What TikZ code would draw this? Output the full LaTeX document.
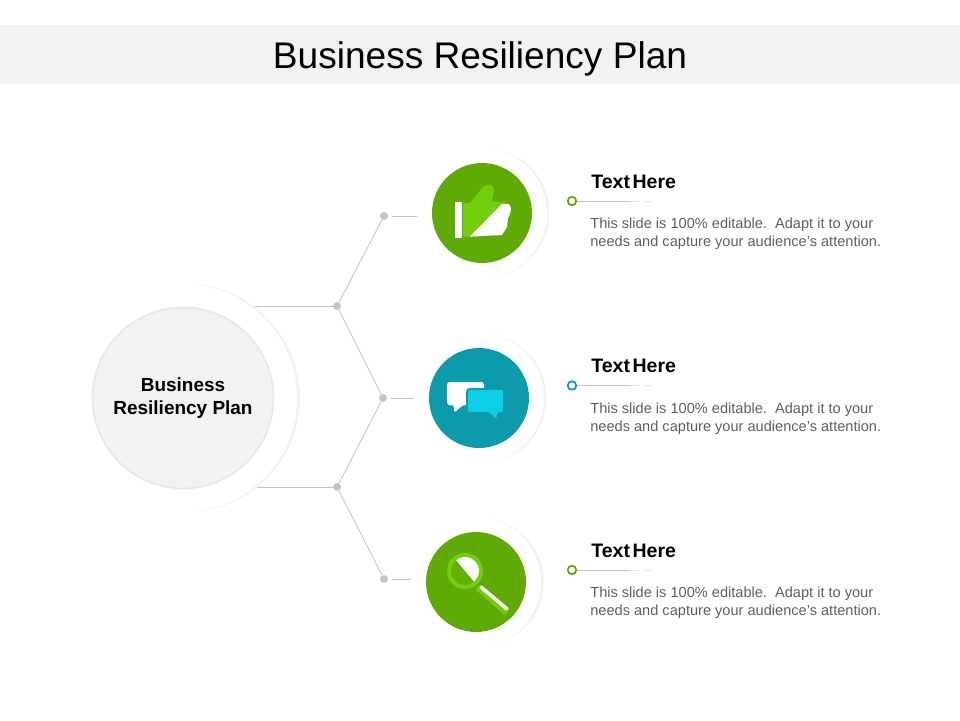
\documentclass[tikz,border=0pt]{standalone}
\usepackage{fontspec}
\setmainfont{Liberation Sans}
\usetikzlibrary{positioning}
\definecolor{bandgrey}{HTML}{F2F2F2}
\definecolor{ringgrey}{HTML}{F2F2F2}
\definecolor{wiregrey}{HTML}{C4C4C4}
\definecolor{bodygrey}{HTML}{5F5F5F}
\definecolor{leafgreen}{HTML}{5FAA05}
\definecolor{limegreen}{HTML}{72CE0A}
\definecolor{seateal}{HTML}{0C9BAB}
\definecolor{skycyan}{HTML}{0CCFE6}
\tikzset{
  wire/.style={wiregrey,line width=0.5pt},
  wiredot/.style={circle,fill=wiregrey,inner sep=0pt,minimum size=0.16cm},
  halo/.style={circle,fill=white,inner sep=0pt,minimum size=2.6cm},
  iconcircle/.style={circle,inner sep=0pt,minimum size=2cm},
  ringdot/.style={circle,draw,fill=white,line width=1pt,inner sep=0pt,minimum size=0.17cm},
  headtext/.style={anchor=west,inner sep=0pt,font=\fontsize{11.1}{13}\selectfont\bfseries},
  bodytext/.style={anchor=west,inner sep=0pt,align=left,text=bodygrey,font=\fontsize{8.3}{10.25}\selectfont}
}
\newcommand{\handpath}{(463,203) -- (470,203) -- (482,188) .. controls (486,183) and (494,183) .. (494,190) -- (492,201) -- (507,203) .. controls (512,204) and (512,212) .. (508,218) -- (507,227) -- (502,235) -- (463,237) -- cycle}
\begin{document}
\begin{tikzpicture}[x=0.02cm,y=-0.02cm]
\useasboundingbox (0,0) rectangle (960,720);
% bandeau
\fill[bandgrey] (0,25) rectangle (960,84);
\node[inner sep=0pt,font=\fontsize{21.1}{25}\selectfont] (title) at (480,58.5) {Business Resiliency Plan};
% cercle central
\fill[ringgrey] (186,398) circle (114);
\fill[white] (183,398) circle (114);
\node[circle,fill=bandgrey,draw=ringgrey!96!black,line width=1pt,inner sep=0pt,minimum size=3.62cm,align=center,font=\fontsize{10.8}{13.2}\selectfont\bfseries] (root) at (183,398) {Business\\Resiliency Plan};
% fils
\coordinate (rootup) at (255,306);
\coordinate (rootdown) at (257,487);
\node[wiredot] (hubup) at (337,306) {};
\node[wiredot] (hubdown) at (337,487) {};
\node[wiredot] (tipa) at (384,216) {};
\node[wiredot] (tipb) at (383,398) {};
\node[wiredot] (tipc) at (384,579) {};
\coordinate (enda) at (417,216);
\coordinate (endb) at (414,398);
\coordinate (endc) at (411,579);
\draw[wire] (rootup) -- (hubup);
\draw[wire] (rootdown) -- (hubdown);
\draw[wire] (hubup) -- (tipa);
\draw[wire] (hubup) -- (tipb);
\draw[wire] (hubdown) -- (tipb);
\draw[wire] (hubdown) -- (tipc);
\draw[wire,shorten <=2pt] (tipa) -- (enda);
\draw[wire,shorten <=2pt] (tipb) -- (endb);
\draw[wire,shorten <=2pt] (tipc) -- (endc);
% cercles et textes
\foreach \n/\cx/\cy/\tone in {a/482/213/leafgreen,b/479/398/seateal,c/476/582/leafgreen}
    {
    \fill[ringgrey] (\cx+3,\cy) circle (64.5);
    \node[halo] (halo\n) at (\cx,\cy) {};
    \node[iconcircle,fill=\tone] (icon\n) at (\cx,\cy) {};
    }
\foreach \n/\cy/\tone in {a/201/leafgreen,b/385.5/seateal,c/570/leafgreen}
    {
    \node[ringdot,draw=\tone] (mark\n) at (572,\cy) {};
    \coordinate (lead\n) at (630,\cy);
    \draw[wire] (mark\n) -- (lead\n);
    \draw[wiregrey!50,line width=0.5pt,dash pattern=on 5pt off 3pt] (lead\n) -- ++(22,0);
    \node[headtext] (head\n) at (591,\cy-19.5) {Text\hspace{1.5pt}Here};
    \node[bodytext] (body\n) at (590,\cy+33) {This slide is 100\% editable.\ \ Adapt it to your\\needs and capture your audience's attention.};
    }
% pouce
\fill[white] (455,202) rectangle (462,238);
\fill[limegreen] \handpath;
\begin{scope}
\clip (470,236.5) -- (502,204) -- (516,204) -- (516,240) -- (470,240) -- cycle;
\fill[white] \handpath;
\end{scope}
% bulles
\fill[white,rounded corners=1.5pt] (447,382) -- (484,382) -- (484,405) -- (463,405) -- (454,413) -- (454,405) -- (447,405) -- cycle;
\fill[skycyan,draw=seateal,line width=1pt,rounded corners=1.5pt] (467,389) -- (504,389) -- (504,413) -- (498,413) -- (497,421) -- (489,413) -- (467,413) -- cycle;
% loupe
\draw[limegreen,line width=3pt,line cap=round] (479,589) -- (505,612);
\draw[white,line width=2pt,line cap=round] (481,587) -- (507,609);
\fill[limegreen] (465,571) circle (18);
\fill[leafgreen!80!limegreen] (465,571) circle (14);
\begin{scope}
\clip (465,571) circle (14);
\fill[white] (456,560) -- (476,584) -- (490,570) -- (470,545) -- cycle;
\end{scope}
\end{tikzpicture}
\end{document}
